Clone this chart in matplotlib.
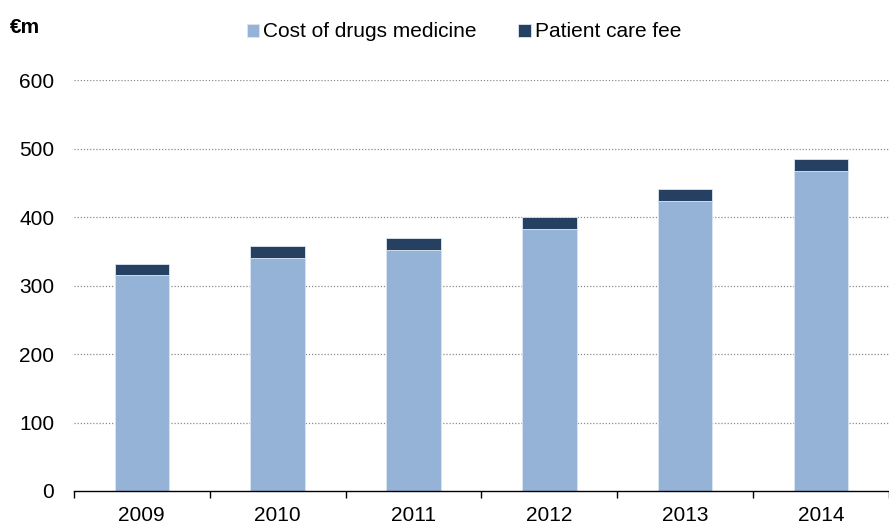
import matplotlib
matplotlib.use('Agg')
import matplotlib.pyplot as plt
import numpy as np

# 数据
years = ['2009', '2010', '2011', '2012', '2013', '2014']
drugs_cost = [315, 341, 352, 383, 424, 468]
care_fee = [16, 17, 18, 17, 17, 17]

plt.rcParams['font.family'] = ['Liberation Sans', 'DejaVu Sans']

fig = plt.figure(figsize=(8.89, 5.24), dpi=100)
ax = fig.add_axes([0.083, 0.063, 0.917, 0.784])

x = np.arange(len(years))
ax.bar(x, drugs_cost, width=0.4, color='#95B3D7', edgecolor='#DCE6F2', linewidth=0.6,
       label='Cost of drugs medicine', zorder=3)
ax.bar(x, care_fee, width=0.4, bottom=drugs_cost, color='#254061', edgecolor='#DCE6F2',
       linewidth=0.6, label='Patient care fee', zorder=3)

ax.set_ylim(0, 600)
ax.set_xlim(-0.5, 5.44)
ax.set_yticks(range(0, 601, 100))
for v in range(100, 601, 100):
    ax.axhline(v, color='#8C8C8C', linestyle=(0, (1, 1.5)), linewidth=0.9, zorder=1)

# 类别边界上的刻度
ax.set_xticks(np.arange(-0.5, 6, 1))
ax.set_xticklabels([])
ax.set_xticks(x, minor=True)
ax.set_xticklabels(years, minor=True)
ax.tick_params(axis='x', which='major', length=5, width=1, direction='out', color='black')
ax.tick_params(axis='x', which='minor', length=0, labelsize=15, pad=11)
ax.tick_params(axis='y', length=0, labelsize=15, pad=14)

for s in ['left', 'right', 'top']:
    ax.spines[s].set_visible(False)
ax.spines['bottom'].set_linewidth(1)
ax.spines['bottom'].set_zorder(4)

fig.text(0.011, 0.947, '€m', fontsize=15, fontweight='bold', va='center')
fig.legend(loc='center', bbox_to_anchor=(0.522, 0.939), ncol=2, frameon=False,
           fontsize=15, handlelength=0.6, handleheight=0.6, handletextpad=0.2,
           columnspacing=2.0)

plt.savefig('out.png', dpi=100)
